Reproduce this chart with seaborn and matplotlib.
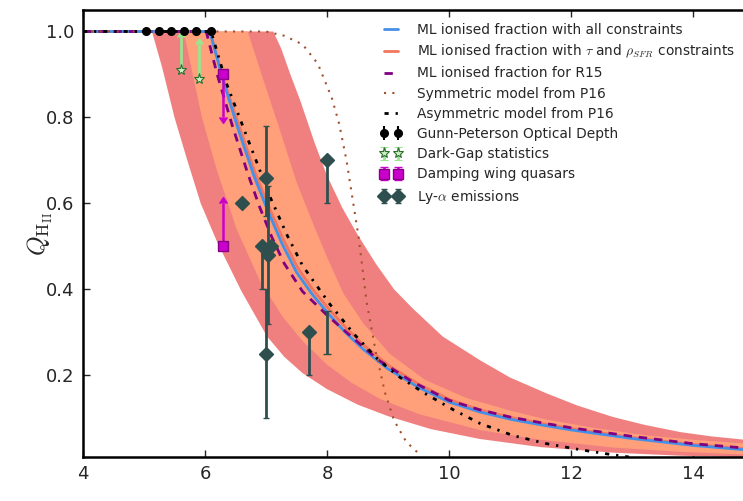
import numpy as np
import matplotlib
matplotlib.use("Agg")
import matplotlib.pyplot as plt
import seaborn as sns
from matplotlib.lines import Line2D

# ---------------- data ----------------
# Maximum-likelihood curves
z_ml_all = [4.0, 6.08, 6.3, 6.55, 6.8, 7.01, 7.25, 7.5, 7.75, 8.0, 8.3, 8.6, 9.0, 9.5, 10.0,
            10.5, 11.0, 11.5, 12.0, 13.0, 14.0, 15.0]
q_ml_all = [1.0, 1.0, 0.885, 0.77, 0.665, 0.59, 0.51, 0.44, 0.39, 0.347, 0.30, 0.26, 0.215, 0.172, 0.138,
            0.115, 0.098, 0.085, 0.073, 0.053, 0.037, 0.025]

z_ml_tau = [4.0, 6.08, 6.3, 6.56, 6.82, 7.03, 7.27, 7.52, 7.77, 8.02, 8.32, 8.62, 9.02, 9.52, 10.02,
            10.52, 11.02, 11.52, 12.02, 13.02, 14.02, 15.0]
q_ml_tau = [1.0, 1.0, 0.89, 0.78, 0.672, 0.598, 0.52, 0.45, 0.399, 0.356, 0.309, 0.268, 0.222, 0.178, 0.143,
            0.119, 0.102, 0.088, 0.076, 0.055, 0.039, 0.027]

z_r15 = [4.0, 6.02, 6.2, 6.45, 6.7, 6.9, 7.1, 7.3, 7.6, 8.0, 8.4, 8.85, 9.4, 10.0, 10.5,
         11.0, 11.5, 12.0, 13.0, 14.0, 15.0]
q_r15 = [1.0, 1.0, 0.90, 0.78, 0.67, 0.59, 0.52, 0.46, 0.395, 0.34, 0.29, 0.235, 0.185, 0.142, 0.12,
         0.103, 0.09, 0.078, 0.058, 0.041, 0.029]

z_sym = [4.0, 7.0, 7.3, 7.6, 7.85, 8.08, 8.2, 8.32, 8.42, 8.52, 8.65, 8.8, 8.95, 9.1, 9.3, 9.55]
q_sym = [1.0, 1.0, 0.99, 0.97, 0.925, 0.845, 0.785, 0.70, 0.61, 0.52, 0.37, 0.255, 0.16, 0.095, 0.045, 0.012]

z_asym = [4.0, 6.1, 6.35, 6.66, 7.07, 7.35, 7.6, 8.05, 8.45, 8.85, 9.2, 9.58, 10.07, 10.51, 11.05,
          11.6, 12.15, 12.6, 12.95]
q_asym = [1.0, 1.0, 0.88, 0.765, 0.614, 0.525, 0.455, 0.365, 0.295, 0.235, 0.195, 0.16, 0.12, 0.088, 0.06,
          0.041, 0.027, 0.017, 0.01]

# Confidence bands (edges)
z_outer_left = [5.13, 5.3, 5.5, 5.7, 5.93, 6.2, 6.6, 7.02, 7.3, 7.6, 8.0, 8.5, 9.0, 9.7, 10.5,
                11.5, 12.7, 13.8, 15.0]
q_outer_left = [1.0, 0.915, 0.80, 0.705, 0.60, 0.51, 0.395, 0.29, 0.243, 0.205, 0.168, 0.132, 0.105, 0.075, 0.052,
                0.033, 0.02, 0.013, 0.009]
z_outer_right = [7.12, 7.25, 7.4, 7.56, 7.8, 8.0, 8.25, 8.49, 8.8, 9.1, 9.41, 9.9, 10.51, 11.0, 11.6, 12.1,
                 12.69, 13.2, 13.79, 14.3, 15.0]
q_outer_right = [1.0, 0.96, 0.90, 0.84, 0.74, 0.665, 0.59, 0.53, 0.46, 0.40, 0.355, 0.29, 0.235, 0.195, 0.158, 0.13,
                 0.103, 0.085, 0.068, 0.058, 0.048]

z_inner_left = [5.65, 5.8, 5.95, 6.2, 6.52, 6.9, 7.28, 7.6, 8.0, 8.4, 8.87, 9.5, 10.5, 11.5, 12.7, 13.8, 15.0]
q_inner_left = [1.0, 0.9, 0.80, 0.675, 0.54, 0.42, 0.335, 0.28, 0.225, 0.183, 0.145, 0.11, 0.073, 0.05, 0.032,
                0.022, 0.015]
z_inner_right = [6.7, 6.95, 7.23, 7.5, 7.78, 8.0, 8.27, 8.6, 9.03, 9.6, 10.29, 11.0, 11.6, 12.4, 13.24, 14.1, 15.0]
q_inner_right = [1.0, 0.89, 0.77, 0.65, 0.55, 0.475, 0.39, 0.32, 0.25, 0.19, 0.147, 0.118, 0.097, 0.077, 0.06,
                 0.049, 0.04]

# Observational constraints
z_gp = [5.03, 5.25, 5.45, 5.65, 5.85, 6.10]
q_gp = [1.0, 1.0, 1.0, 1.0, 1.0, 1.0]

z_dg = [5.6, 5.9]
q_dg = [0.91, 0.89]
e_dg = [0.077, 0.08]

z_dw = [6.3, 6.3]
q_dw = [0.90, 0.50]
e_dw = [0.10, 0.10]
dw_upper = [True, False]
dw_lower = [False, True]

z_lya = [6.6, 7.0, 6.94, 7.09, 7.04, 7.0, 7.7, 8.0]
q_lya = [0.60, 0.66, 0.50, 0.50, 0.48, 0.25, 0.30, 0.70]
e_lya_lo = [0.0, 0.09, 0.10, 0.0, 0.16, 0.15, 0.10, 0.10]
e_lya_hi = [0.0, 0.12, 0.0, 0.0, 0.16, 0.15, 0.0, 0.0]
# Ly-alpha point at z=8 drawn only as a bar (marker hidden in the reference)
z_lya_bar = [8.0]
q_lya_bar = [0.35]
e_lya_bar = [0.10]

x_ticks = [4, 6, 8, 10, 12, 14]
y_ticks = [0.2, 0.4, 0.6, 0.8, 1.0]

labels = [
    "ML ionised fraction with all constraints",
    r"ML ionised fraction with $\tau$ and $\rho_{SFR}$ constraints",
    "ML ionised fraction for R15",
    "Symmetric model from P16",
    "Asymmetric model from P16",
    "Gunn-Peterson Optical Depth",
    "Dark-Gap statistics",
    "Damping wing quasars",
    r"Ly-$\alpha$ emissions",
]

# ---------------- style ----------------
sns.set_style("ticks")
plt.rcParams['font.family'] = ['DejaVu Sans']
plt.rcParams['mathtext.fontset'] = 'cm'

fig = plt.figure(figsize=(7.43, 5.01), dpi=100)
ax = fig.add_axes([83 / 743, 44 / 501, 660 / 743, 447 / 501])

# bands
ax.fill(np.concatenate([z_outer_left, z_outer_right[::-1]]),
        np.concatenate([q_outer_left, q_outer_right[::-1]]),
        color='#F08080', lw=0, zorder=1)
ax.fill(np.concatenate([z_inner_left, z_inner_right[::-1]]),
        np.concatenate([q_inner_left, q_inner_right[::-1]]),
        color='#FFA07A', lw=0, zorder=1.5)

c_blue = '#4590E6'
c_red = '#F2765E'
ls_r15 = (0, (3, 2.5))
ls_sym = (0, (1, 3))
ls_asym = (0, (1.5, 2.5, 0.8, 2.5))
sns.lineplot(x=z_ml_tau, y=q_ml_tau, ax=ax, color=c_red, lw=2, zorder=3, sort=False, errorbar=None)
sns.lineplot(x=z_ml_all, y=q_ml_all, ax=ax, color=c_blue, lw=2, zorder=4, sort=False, errorbar=None)
sns.lineplot(x=z_r15, y=q_r15, ax=ax, color='purple', lw=2, linestyle=ls_r15, zorder=5, sort=False, errorbar=None)
sns.lineplot(x=z_sym, y=q_sym, ax=ax, color='sienna', lw=1.5, linestyle=ls_sym, zorder=5, sort=False, errorbar=None)
sns.lineplot(x=z_asym, y=q_asym, ax=ax, color='black', lw=2, linestyle=ls_asym, zorder=5, sort=False, errorbar=None)

# data points
h_gp = ax.errorbar(z_gp, q_gp, yerr=0.002, fmt='o', color='black', ms=5.5, mec='black', zorder=8, capsize=0)
h_dg = ax.errorbar(z_dg, q_dg, yerr=e_dg, lolims=True, fmt='*', color='#98E690', ms=8,
                   mfc='#c8f0c0', mec='#2e6b2e', mew=0.8, elinewidth=2, zorder=8)
h_dw = ax.errorbar(z_dw, q_dw, yerr=e_dw, uplims=dw_upper, lolims=dw_lower, fmt='s',
                   color='#CC00CC', ms=7, mec='#880088', elinewidth=1.8, zorder=8)
h_lya = ax.errorbar(z_lya, q_lya, yerr=[e_lya_lo, e_lya_hi], fmt='D', color='#2F4F4F',
                    ms=7.5, mec='#2F4F4F', elinewidth=2, capsize=2, zorder=7)
ax.errorbar(z_lya_bar, q_lya_bar, yerr=[e_lya_bar, [0.0]], fmt='none', ecolor='#2F4F4F',
            elinewidth=2, capsize=3, zorder=7)

ax.set_xlim(4, 14.82)
ax.set_ylim(0.01, 1.05)
ax.set_xticks(x_ticks)
ax.set_xticklabels([str(t) for t in x_ticks])
ax.set_yticks(y_ticks)
ax.set_yticklabels([f"{t:.1f}" for t in y_ticks])
ax.spines['right'].set_visible(False)
for s in ['left', 'bottom', 'top']:
    ax.spines[s].set_linewidth(1.8)
    ax.spines[s].set_color('black')
ax.tick_params(direction='in', length=5, width=1, top=True, right=False, labelsize=13, pad=6)

ax.set_xlabel(r'$z$', fontsize=18, labelpad=8)
ax.set_ylabel(r'$Q_{\rm H_{II}}$', fontsize=18)
ax.yaxis.set_label_coords(-0.043, 0.5)

line_handles = [Line2D([], [], color=c_blue, lw=2),
                Line2D([], [], color=c_red, lw=2),
                Line2D([], [], color='purple', lw=2, linestyle=ls_r15),
                Line2D([], [], color='sienna', lw=1.5, linestyle=ls_sym),
                Line2D([], [], color='black', lw=2, linestyle=ls_asym)]
handles = line_handles + [h_gp, h_dg, h_dw, h_lya]
ax.legend(handles, labels, loc='upper left', bbox_to_anchor=((372 - 83) / 660, 0.99),
          borderaxespad=0.2, frameon=False, fontsize=9.9, numpoints=2,
          handlelength=1.6, handletextpad=1.1, labelspacing=0.45)

fig.savefig('out.png', dpi=100)
